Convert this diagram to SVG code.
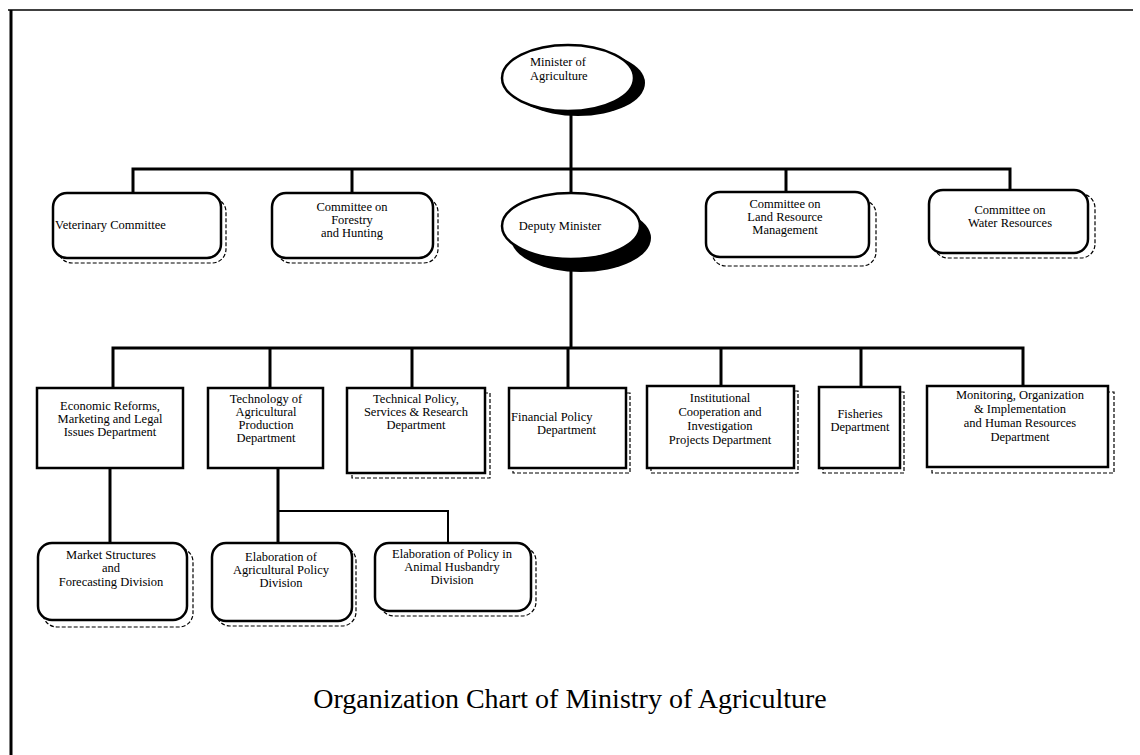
<svg xmlns="http://www.w3.org/2000/svg" width="1140" height="755" viewBox="0 0 1140 755">
<style>
.bx{fill:#fff;stroke:#000;stroke-width:2.5}
.sh{fill:#fff;stroke:#000;stroke-width:1.2;stroke-dasharray:4 2}
.el{fill:#fff;stroke:#000;stroke-width:2.5}
.es{fill:#000;stroke:none}
.ln{stroke:#000;stroke-width:3;fill:none}
.t{font-family:"Liberation Serif","Times New Roman",serif;font-size:12.5px;text-anchor:middle;fill:#000}
.ts{text-anchor:start}
.title{font-family:"Liberation Serif","Times New Roman",serif;font-size:28px;text-anchor:middle;fill:#000}
</style>
<rect x="0" y="0" width="1140" height="755" fill="#fff"/>
<g id="frame">
<line x1="8" y1="10" x2="1133" y2="10" stroke="#000" stroke-width="1.5"/>
<line x1="11" y1="10" x2="11" y2="755" stroke="#000" stroke-width="3"/>
</g>
<g id="connectors">
<path class="ln" d="M571 113 V348"/>
<path class="ln" d="M133 193 V169 H1010 V190"/>
<path class="ln" d="M352 169 V193"/>
<path class="ln" d="M786 169 V192"/>
<path class="ln" d="M113 388 V348 H1023 V386"/>
<path class="ln" d="M270 348 V388"/>
<path class="ln" d="M412 348 V388"/>
<path class="ln" d="M568 348 V388"/>
<path class="ln" d="M721 348 V386"/>
<path class="ln" d="M861 348 V387"/>
<path class="ln" d="M110 468 V543"/>
<path class="ln" d="M278 468 V543"/>
<path class="ln" d="M278 511 H448 V543" style="stroke-width:2"/>
</g>
<g id="minister">
<ellipse class="es" cx="578" cy="83" rx="67" ry="33"/>
<ellipse class="el" cx="568" cy="78" rx="66" ry="33"/>
<text class="t ts" x="530" y="66">Minister of</text>
<text class="t ts" x="530" y="80">Agriculture</text>
</g>
<g id="veterinary">
<rect class="sh" x="58" y="198" width="168" height="65" rx="14"/>
<rect class="bx" x="53" y="193" width="168" height="65" rx="14"/>
<text class="t ts" x="55" y="229">Veterinary Committee</text>
</g>
<g id="forestry">
<rect class="sh" x="277" y="198" width="161" height="65" rx="14"/>
<rect class="bx" x="272" y="193" width="161" height="65" rx="14"/>
<text class="t" x="352" y="211">Committee on</text>
<text class="t" x="352" y="224">Forestry</text>
<text class="t" x="352" y="237">and Hunting</text>
</g>
<g id="deputy">
<ellipse class="es" cx="581" cy="238" rx="70" ry="34"/>
<ellipse class="el" cx="571" cy="226" rx="69" ry="33"/>
<text class="t" x="560" y="230">Deputy Minister</text>
</g>
<g id="land">
<rect class="sh" x="712" y="200" width="164" height="66" rx="14"/>
<rect class="bx" x="706" y="192" width="163" height="65" rx="14"/>
<text class="t" x="785" y="208">Committee on</text>
<text class="t" x="785" y="221">Land Resource</text>
<text class="t" x="785" y="234">Management</text>
</g>
<g id="water">
<rect class="sh" x="934" y="194" width="161" height="64" rx="14"/>
<rect class="bx" x="929" y="190" width="159" height="63" rx="14"/>
<text class="t" x="1010" y="214">Committee on</text>
<text class="t" x="1010" y="227">Water Resources</text>
</g>
<g id="economic">
<rect class="bx" x="37" y="388" width="146" height="80"/>
<text class="t" x="110" y="410">Economic Reforms,</text>
<text class="t" x="110" y="423">Marketing and Legal</text>
<text class="t" x="110" y="436">Issues Department</text>
</g>
<g id="technology">
<rect class="bx" x="208" y="388" width="115" height="80"/>
<text class="t" x="266" y="403">Technology of</text>
<text class="t" x="266" y="416">Agricultural</text>
<text class="t" x="266" y="429">Production</text>
<text class="t" x="266" y="442">Department</text>
</g>
<g id="technical">
<rect class="sh" x="352" y="393" width="138" height="85"/>
<rect class="bx" x="347" y="388" width="138" height="85"/>
<text class="t" x="416" y="403">Technical Policy,</text>
<text class="t" x="416" y="416">Services &amp; Research</text>
<text class="t" x="416" y="429">Department</text>
</g>
<g id="financial">
<rect class="sh" x="513" y="393" width="117" height="80"/>
<rect class="bx" x="509" y="388" width="117" height="80"/>
<text class="t ts" x="511" y="421">Financial Policy</text>
<text class="t ts" x="537" y="434">Department</text>
</g>
<g id="institutional">
<rect class="sh" x="651" y="391" width="147" height="82"/>
<rect class="bx" x="647" y="386" width="147" height="82"/>
<text class="t" x="720" y="402">Institutional</text>
<text class="t" x="720" y="416">Cooperation and</text>
<text class="t" x="720" y="430">Investigation</text>
<text class="t" x="720" y="444">Projects Department</text>
</g>
<g id="fisheries">
<rect class="sh" x="823" y="392" width="81" height="81"/>
<rect class="bx" x="819" y="387" width="81" height="81"/>
<text class="t" x="860" y="418">Fisheries</text>
<text class="t" x="860" y="431">Department</text>
</g>
<g id="monitoring">
<rect class="sh" x="932" y="392" width="182" height="81"/>
<rect class="bx" x="927" y="386" width="181" height="81"/>
<text class="t" x="1020" y="399">Monitoring, Organization</text>
<text class="t" x="1020" y="413">&amp; Implementation</text>
<text class="t" x="1020" y="427">and Human Resources</text>
<text class="t" x="1020" y="441">Department</text>
</g>
<g id="market">
<rect class="sh" x="43" y="548" width="150" height="79" rx="14"/>
<rect class="bx" x="38" y="543" width="149" height="77" rx="14"/>
<text class="t" x="111" y="559">Market Structures</text>
<text class="t" x="111" y="572">and</text>
<text class="t" x="111" y="586">Forecasting Division</text>
</g>
<g id="elab-agri">
<rect class="sh" x="216" y="547" width="140" height="79" rx="14"/>
<rect class="bx" x="212" y="543" width="140" height="78" rx="14"/>
<text class="t" x="281" y="561">Elaboration of</text>
<text class="t" x="281" y="574">Agricultural Policy</text>
<text class="t" x="281" y="587">Division</text>
</g>
<g id="elab-animal">
<rect class="sh" x="380" y="547" width="156" height="69" rx="14"/>
<rect class="bx" x="375" y="543" width="156" height="68" rx="14"/>
<text class="t" x="452" y="558">Elaboration of Policy in</text>
<text class="t" x="452" y="571">Animal Husbandry</text>
<text class="t" x="452" y="584">Division</text>
</g>
<text class="title" x="570" y="708">Organization Chart of Ministry of Agriculture</text>
</svg>
